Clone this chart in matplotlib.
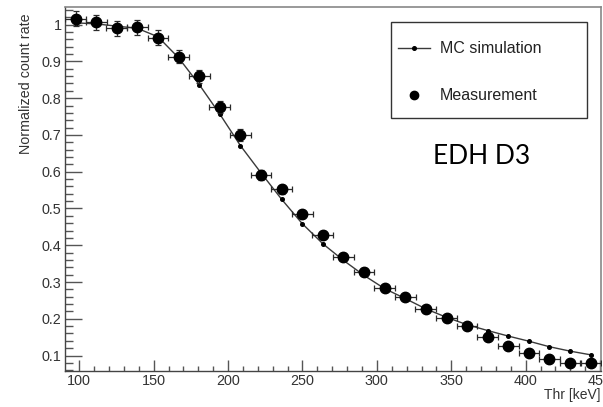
import matplotlib
matplotlib.use("Agg")
import matplotlib.pyplot as plt
from matplotlib.ticker import MultipleLocator
from matplotlib.lines import Line2D
from matplotlib.patches import Rectangle

# ---- data ----
thr = [97.5, 111.3, 125.2, 139.0, 152.9, 166.7, 180.6, 194.4, 208.3, 222.1,
       236.0, 249.8, 263.7, 277.5, 291.4, 305.2, 319.1, 332.9, 346.8, 360.6,
       374.5, 388.3, 402.2, 416.0, 429.9, 443.7]
mc_sim = [1.005, 1.002, 0.996, 0.990, 0.967, 0.910, 0.837, 0.757, 0.671, 0.597,
          0.525, 0.459, 0.404, 0.359, 0.318, 0.282, 0.255, 0.227, 0.204, 0.184,
          0.168, 0.153, 0.139, 0.124, 0.112, 0.102]
meas = [1.016, 1.006, 0.990, 0.993, 0.965, 0.913, 0.859, 0.775, 0.700, 0.591,
        0.552, 0.485, 0.429, 0.369, 0.328, 0.283, 0.258, 0.226, 0.202, 0.180,
        0.150, 0.125, 0.107, 0.091, 0.079, 0.079]
meas_yerr = [0.020, 0.020, 0.020, 0.020, 0.020, 0.018, 0.018, 0.016, 0.016, 0.014,
             0.013, 0.012, 0.011, 0.010, 0.009, 0.008, 0.008, 0.007, 0.007, 0.006,
             0.006, 0.005, 0.005, 0.004, 0.004, 0.004]
meas_xerr = [7.0] * len(thr)

W, H = 603, 407
fig = plt.figure(figsize=(W / 100, H / 100), dpi=100)
plt.rcParams['font.family'] = ['Liberation Sans', 'DejaVu Sans']

l, r, t, b = 65, 600.5, 7, 371
ax = fig.add_axes([l / W, 1 - b / H, (r - l) / W, (b - t) / H])

ax.plot(thr, mc_sim, '-', color='#3a3a3a', lw=1.0, marker='o', ms=2.6,
        mfc='black', mec='black', zorder=2)
ax.errorbar(thr, meas, yerr=meas_yerr, xerr=meas_xerr, fmt='o', color='black',
            ms=7.5, ecolor='#2a2a2a', elinewidth=0.9, capsize=2, capthick=0.9,
            zorder=3)

ax.set_xlim(90.4, 450.3)
ax.set_ylim(0.058, 1.048)
ax.xaxis.set_major_locator(MultipleLocator(50))
ax.xaxis.set_minor_locator(MultipleLocator(10))
ax.yaxis.set_major_locator(MultipleLocator(0.1))
ax.yaxis.set_minor_locator(MultipleLocator(0.02))
ax.yaxis.set_major_formatter(plt.FuncFormatter(lambda v, p: '1' if abs(v - 1) < 1e-9 else f'{v:.1f}'))

ax.tick_params(axis='both', which='both', direction='in', top=False, right=False,
               color='#555555', width=1.0, labelcolor='#333333', labelsize=10.4)
ax.tick_params(axis='y', which='major', length=12, pad=2.5)
ax.tick_params(axis='y', which='minor', length=6)
ax.tick_params(axis='x', which='major', length=8, pad=2)
ax.tick_params(axis='x', which='minor', length=3.6)

for s in ['left', 'bottom']:
    ax.spines[s].set_color('#444444')
    ax.spines[s].set_linewidth(1.0)
for s in ['top', 'right']:
    ax.spines[s].set_color('#888888')
    ax.spines[s].set_linewidth(1.2)

fig.text(26 / W, 1 - 13 / H, 'Normalized count rate', rotation=90, ha='center',
         va='top', fontsize=10.3, color='#333333')
fig.text(600 / W, 1 - 395 / H, 'Thr [keV]', ha='right', va='center',
         fontsize=10, color='#333333')

# legend frame
fig.patches.append(Rectangle((391 / W, 1 - 118 / H), (587 - 391) / W, (118 - 22) / H,
                             transform=fig.transFigure, fill=False,
                             edgecolor='#333333', lw=1.0, zorder=5))
handles = [Line2D([], [], color='#3a3a3a', lw=1.0, marker='o', ms=2.6, mfc='black', mec='black'),
           Line2D([], [], color='black', lw=0, marker='o', ms=6)]
leg = ax.legend(handles, ['MC simulation', 'Measurement'], loc='upper left',
                bbox_to_anchor=(391 / W, 1 - 34 / H), bbox_transform=fig.transFigure,
                borderaxespad=0, frameon=False, fontsize=11.5,
                labelspacing=2.0, handlelength=2.0, handletextpad=0.6,
                borderpad=0.45, labelcolor='#222222')

fig.text(482 / W, 1 - 157 / H, 'EDH D3', ha='center', va='center',
         fontsize=19, family=['Lato', 'DejaVu Sans'], color='black')

fig.savefig('out.png', dpi=100)
